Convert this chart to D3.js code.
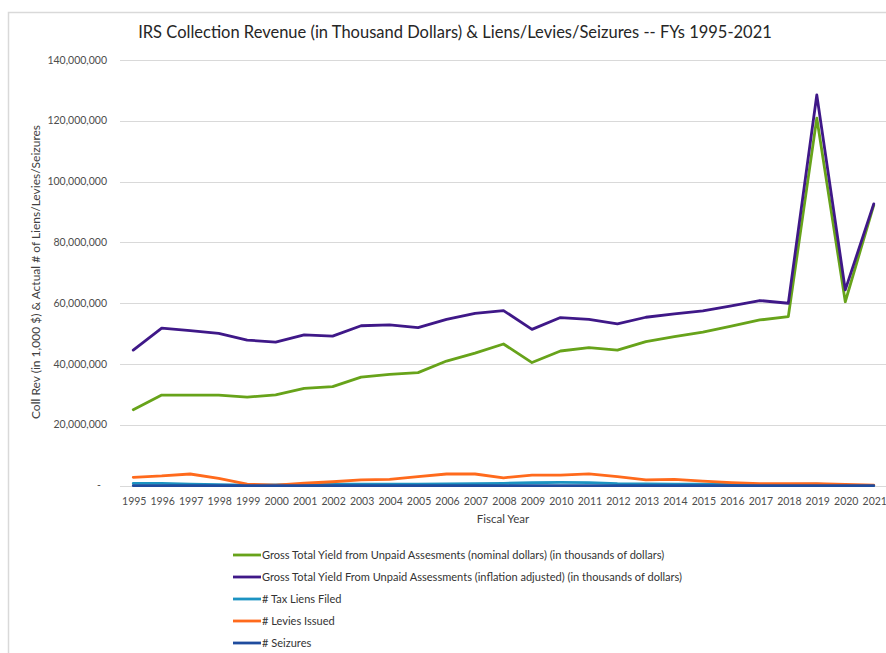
<!DOCTYPE html>
<html>
<head>
<meta charset="utf-8">
<script src="https://cdn.jsdelivr.net/npm/d3@7"></script>
<style>
  body { margin: 0; background: #fff; }
  svg { display: block; font-family: Lato, "Open Sans", sans-serif; }
</style>
</head>
<body>
<svg id="svg" width="886" height="653"></svg>
<script>
const YEARS = d3.range(1995, 2022);

// values
const NOMINAL = [25.0, 29.8, 29.8, 29.8, 29.1, 29.9, 32.0, 32.6, 35.7, 36.6, 37.2, 41.0, 43.6, 46.6,
  40.5, 44.3, 45.4, 44.6, 47.4, 49.0, 50.5, 52.5, 54.5, 55.6, 120.9, 60.5, 92.3].map((v) => v * 1e6);
const ADJUSTED = [44.6, 51.8, 51.0, 50.1, 47.9, 47.2, 49.6, 49.2, 52.6, 52.9, 52.0, 54.7, 56.7, 57.6,
  51.4, 55.3, 54.7, 53.2, 55.4, 56.5, 57.5, 59.1, 60.9, 60.0, 128.5, 64.4, 92.7].map((v) => v * 1e6);
const LIENS = [0.75, 0.75, 0.54, 0.38, 0.17, 0.29, 0.43, 0.48, 0.55, 0.53, 0.55, 0.63, 0.68, 0.77,
  0.97, 1.1, 1.04, 0.7, 0.6, 0.53, 0.48, 0.45, 0.45, 0.39, 0.54, 0.2, 0.1].map((v) => v * 1e6);
const LEVIES = [2.76, 3.2, 3.85, 2.4, 0.5, 0.2, 0.8, 1.3, 1.9, 2.1, 3.0, 3.85, 3.85, 2.6,
  3.5, 3.5, 3.9, 3.0, 1.9, 2.1, 1.5, 1.0, 0.65, 0.65, 0.7, 0.4, 0.2].map((v) => v * 1e6);
const SEIZURES = [10090, 10449, 10090, 2307, 161, 74, 234, 296, 399, 440, 512, 590, 676, 708,
  766, 750, 600, 500, 400, 350, 300, 280, 250, 200, 150, 100, 100];

const SERIES_NAMES = [
  "Gross Total Yield from Unpaid Assesments (nominal dollars) (in thousands of dollars)",
  "Gross Total Yield From Unpaid Assessments (inflation adjusted) (in thousands of dollars)",
  "# Tax Liens Filed",
  "# Levies Issued",
  "# Seizures",
];
const SERIES_COLORS = ["#67a31a", "#3f1888", "#1c93c2", "#ff6a1c", "#1f4c9e"];
const Y_TICKS = [0, 20e6, 40e6, 60e6, 80e6, 100e6, 120e6, 140e6];

const series = [NOMINAL, ADJUSTED, LIENS, LEVIES, SEIZURES].map((values, i) => ({
  name: SERIES_NAMES[i],
  color: SERIES_COLORS[i],
  points: YEARS.map((year, j) => ({ year, value: values[j] })),
}));

const svg = d3.select("#svg");

// Chart frame (cropped screenshot of an Excel chart)
svg.append("path")
  .attr("d", "M8.5,900 V12.5 H900")
  .attr("fill", "none")
  .attr("stroke", "#d9d9d9")
  .attr("stroke-width", 1.5);

const x = d3.scalePoint().domain(YEARS).range([119, 888]).padding(0.5);
const y = d3.scaleLinear().domain([0, 140e6]).range([485.7, 60]);

// Title
svg.append("text")
  .attr("x", 455)
  .attr("y", 38)
  .attr("text-anchor", "middle")
  .attr("font-size", 16.5)
  .attr("fill", "#262626")
  .text("IRS Collection Revenue (in Thousand Dollars) & Liens/Levies/Seizures -- FYs 1995-2021");

// Gridlines and y tick labels
const grid = svg.append("g");
grid.selectAll("line")
  .data(Y_TICKS)
  .enter()
  .append("line")
  .attr("x1", 120)
  .attr("x2", 888)
  .attr("y1", (d) => Math.round(y(d)) + 0.5)
  .attr("y2", (d) => Math.round(y(d)) + 0.5)
  .attr("stroke", "#d9d9d9")
  .attr("stroke-width", 1.2);

grid.selectAll("text")
  .data(Y_TICKS)
  .enter()
  .append("text")
  .attr("x", (d) => (d === 0 ? 101 : 107))
  .attr("y", (d) => y(d) + 3.5)
  .attr("text-anchor", "end")
  .attr("font-size", 10.5)
  .attr("fill", "#4d4d4d")
  .text((d) => (d === 0 ? "-" : d3.format(",")(d)));

// X axis labels
svg.append("g")
  .selectAll("text")
  .data(YEARS)
  .enter()
  .append("text")
  .attr("x", (d) => x(d) + 1)
  .attr("y", 505)
  .attr("text-anchor", "middle")
  .attr("font-size", 10.5)
  .attr("fill", "#4d4d4d")
  .text((d) => d);

// Axis titles
svg.append("text")
  .attr("x", 503)
  .attr("y", 523)
  .attr("text-anchor", "middle")
  .attr("font-size", 11.5)
  .attr("fill", "#404040")
  .text("Fiscal Year");

svg.append("text")
  .attr("transform", "translate(40, 272) rotate(-90)")
  .attr("text-anchor", "middle")
  .attr("font-size", 12)
  .attr("fill", "#404040")
  .text("Coll Rev (in 1,000 $) & Actual # of Liens/Levies/Seizures");

// Lines
const line = d3.line()
  .x((d) => x(d.year))
  .y((d) => y(d.value));

svg.append("g")
  .selectAll("path")
  .data(series)
  .enter()
  .append("path")
  .attr("d", (d) => line(d.points))
  .attr("fill", "none")
  .attr("stroke", (d) => d.color)
  .attr("stroke-width", 2.8)
  .attr("stroke-linejoin", "round")
  .attr("stroke-linecap", "round");

// Legend
const legend = svg.append("g")
  .selectAll("g")
  .data(series)
  .enter()
  .append("g")
  .attr("transform", (d, i) => `translate(0, ${555 + i * 22})`);

legend.append("line")
  .attr("x1", 233)
  .attr("x2", 261)
  .attr("stroke", (d) => d.color)
  .attr("stroke-width", 2.8);

legend.append("text")
  .attr("x", 262)
  .attr("y", 4)
  .attr("font-size", 11.05)
  .attr("fill", "#333333")
  .text((d) => d.name);
</script>
</body>
</html>
